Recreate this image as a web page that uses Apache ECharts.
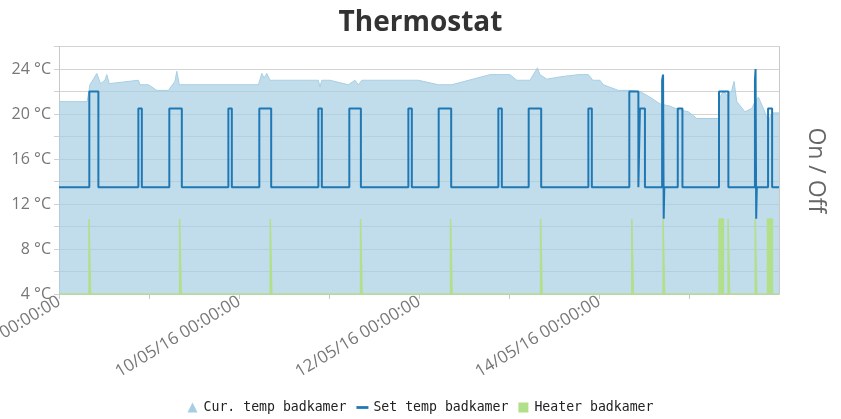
<!DOCTYPE html>
<html>
<head>
<meta charset="utf-8">
<title>Thermostat</title>
<script src="https://cdn.jsdelivr.net/npm/echarts@6/dist/echarts.min.js"></script>
<style>
  html, body { margin: 0; padding: 0; background: #fff; }
  #chart { width: 841px; height: 419px; }
</style>
</head>
<body>
<div id="chart"></div>
<script>
// measured temperature (°C)
var curTemp = [
    ['2016-05-08T00:00', 21.1], ['2016-05-08T07:30', 21.1], ['2016-05-08T08:15', 22.6],
    ['2016-05-08T10:05', 23.6], ['2016-05-08T11:05', 22.7], ['2016-05-08T12:15', 23.0],
    ['2016-05-08T12:45', 23.5], ['2016-05-08T13:25', 22.7], ['2016-05-08T21:10', 23.0],
    ['2016-05-08T21:35', 22.6], ['2016-05-08T23:50', 22.6], ['2016-05-09T02:05', 22.1],
    ['2016-05-09T05:10', 22.1], ['2016-05-09T06:55', 22.9], ['2016-05-09T07:25', 23.8],
    ['2016-05-09T08:05', 22.6], ['2016-05-10T05:10', 22.6], ['2016-05-10T06:05', 23.6],
    ['2016-05-10T06:40', 23.2], ['2016-05-10T07:25', 23.6], ['2016-05-10T08:15', 23.0],
    ['2016-05-10T21:10', 23.0], ['2016-05-10T21:35', 22.4], ['2016-05-10T22:05', 23.0],
    ['2016-05-11T00:15', 23.0], ['2016-05-11T05:10', 22.6], ['2016-05-11T06:55', 23.0],
    ['2016-05-11T07:50', 22.6], ['2016-05-11T08:45', 23.0], ['2016-05-11T23:50', 23.0],
    ['2016-05-12T05:10', 22.6], ['2016-05-12T08:45', 22.6], ['2016-05-12T18:55', 23.5],
    ['2016-05-13T00:15', 23.5], ['2016-05-13T02:05', 23.0], ['2016-05-13T05:35', 23.0],
    ['2016-05-13T07:35', 24.1], ['2016-05-13T08:15', 23.5], ['2016-05-13T10:05', 23.1],
    ['2016-05-13T13:35', 23.3], ['2016-05-13T18:30', 23.5], ['2016-05-13T21:10', 23.5],
    ['2016-05-13T22:20', 23.0], ['2016-05-14T00:15', 23.0], ['2016-05-14T01:10', 22.6],
    ['2016-05-14T05:10', 22.1], ['2016-05-14T08:15', 22.1], ['2016-05-14T10:55', 22.0],
    ['2016-05-14T13:35', 21.5], ['2016-05-14T16:15', 20.9], ['2016-05-14T18:55', 20.7],
    ['2016-05-14T21:10', 20.4], ['2016-05-14T23:50', 20.2], ['2016-05-15T02:05', 19.6],
    ['2016-05-15T07:50', 19.6], ['2016-05-15T08:15', 21.5], ['2016-05-15T09:10', 22.0],
    ['2016-05-15T10:05', 21.7], ['2016-05-15T11:25', 22.1], ['2016-05-15T12:00', 22.9],
    ['2016-05-15T12:45', 21.1], ['2016-05-15T14:55', 20.2], ['2016-05-15T16:45', 20.5],
    ['2016-05-15T17:35', 21.1], ['2016-05-15T18:30', 21.5], ['2016-05-15T19:50', 20.5],
    ['2016-05-15T21:10', 19.3], ['2016-05-15T22:05', 20.1], ['2016-05-16T00:00', 20.1]
];

// set point (°C), value holds until the next entry
var setTemp = [
    ['2016-05-08T00:00', 13.5], ['2016-05-08T08:05', 22.0], ['2016-05-08T10:30', 13.5],
    ['2016-05-08T21:10', 20.5], ['2016-05-08T22:05', 13.5], ['2016-05-09T05:25', 20.5],
    ['2016-05-09T08:45', 13.5], ['2016-05-09T21:10', 20.5], ['2016-05-09T22:05', 13.5],
    ['2016-05-10T05:25', 20.5], ['2016-05-10T08:35', 13.5], ['2016-05-10T21:10', 20.5],
    ['2016-05-10T22:05', 13.5], ['2016-05-11T05:25', 20.5], ['2016-05-11T08:30', 13.5],
    ['2016-05-11T21:10', 20.5], ['2016-05-11T22:05', 13.5], ['2016-05-12T05:15', 20.5],
    ['2016-05-12T08:35', 13.5], ['2016-05-12T21:10', 20.5], ['2016-05-12T22:05', 13.5],
    ['2016-05-13T05:15', 20.5], ['2016-05-13T08:35', 13.5], ['2016-05-13T21:10', 20.5],
    ['2016-05-13T22:05', 13.5], ['2016-05-14T08:05', 22.0], ['2016-05-14T10:30', 13.5],
    ['2016-05-14T10:55', 20.5], ['2016-05-14T12:15', 13.5], ['2016-05-14T16:50', 23.0],
    ['2016-05-14T17:05', 23.5], ['2016-05-14T17:15', 10.7], ['2016-05-14T17:25', 13.5],
    ['2016-05-14T21:00', 20.5], ['2016-05-14T22:15', 13.5], ['2016-05-15T08:00', 22.0],
    ['2016-05-15T10:30', 13.5], ['2016-05-15T17:35', 23.0], ['2016-05-15T17:45', 24.0],
    ['2016-05-15T17:55', 10.7], ['2016-05-15T18:05', 13.5], ['2016-05-15T21:05', 20.5],
    ['2016-05-15T22:10', 13.5], ['2016-05-16T00:00', 13.5]
];

// heater on (1) / off (0)
var heater = [
    ['2016-05-08T00:00', 0],
    ['2016-05-08T08:00', 1], ['2016-05-08T08:25', 0],
    ['2016-05-09T08:10', 1], ['2016-05-09T08:35', 0],
    ['2016-05-10T08:20', 1], ['2016-05-10T08:45', 0],
    ['2016-05-11T08:25', 1], ['2016-05-11T08:50', 0],
    ['2016-05-12T08:25', 1], ['2016-05-12T08:50', 0],
    ['2016-05-13T08:25', 1], ['2016-05-13T08:50', 0],
    ['2016-05-14T08:45', 1], ['2016-05-14T09:10', 0],
    ['2016-05-14T17:05', 1], ['2016-05-14T17:30', 0],
    ['2016-05-15T08:00', 1], ['2016-05-15T09:10', 0],
    ['2016-05-15T10:25', 1], ['2016-05-15T10:50', 0],
    ['2016-05-15T17:40', 1], ['2016-05-15T18:05', 0],
    ['2016-05-15T20:55', 1], ['2016-05-15T22:15', 0],
    ['2016-05-16T00:00', 0]
];

var seriesNames = ['Cur. temp badkamer', 'Set temp badkamer', 'Heater badkamer'];
var startDay = '2016-05-08T00:00';
var endDay = '2016-05-16T00:00';

var DAY = 86400000;

function toMs (s) {
    return Date.parse(s + ':00Z');
}

function toPoints (list) {
    return list.map(function (p) { return [toMs(p[0]), p[1]]; });
}

function pad (n) {
    return (n < 10 ? '0' : '') + n;
}

var xMin = toMs(startDay);
var xMax = toMs(endDay);

var chart = echarts.init(document.getElementById('chart'));

var option = {
    animation: false,
    title: {
        text: 'Thermostat',
        left: 'center',
        top: 4,
        textStyle: {
            fontFamily: 'Open Sans',
            fontSize: 28,
            fontWeight: 'bold',
            color: '#333'
        }
    },
    legend: {
        bottom: 0,
        left: 'center',
        itemWidth: 12,
        itemHeight: 10,
        itemGap: 10,
        textStyle: {
            fontFamily: 'DejaVu Sans Mono',
            fontSize: 13.2,
            color: '#222'
        },
        data: [
            { name: seriesNames[0], icon: 'path://M5,0L10,10L0,10Z' },
            { name: seriesNames[1], icon: 'path://M0,0H13V3H0Z' },
            { name: seriesNames[2], icon: 'path://M0,0H10V10H0Z' }
        ]
    },
    grid: {
        left: 59,
        right: 62,
        top: 46.5,
        bottom: 125,
        containLabel: false,
        outerBoundsMode: 'none'
    },
    xAxis: {
        type: 'value',
        min: xMin,
        max: xMax,
        interval: DAY,
        splitLine: { show: false },
        axisLine: { show: true, lineStyle: { color: '#c8c8c8' } },
        axisTick: { show: true, length: 5, lineStyle: { color: '#c8c8c8' } },
        axisLabel: {
            rotate: 31,
            margin: 6,
            fontFamily: 'Open Sans',
            fontSize: 17,
            color: '#777',
            showMaxLabel: false,
            formatter: function (v) {
                var d = Math.round((v - xMin) / DAY);
                if (d % 2 !== 0 || v >= xMax) return '';
                var dt = new Date(v);
                return pad(dt.getUTCDate()) + '/' + pad(dt.getUTCMonth() + 1) + '/' +
                    String(dt.getUTCFullYear()).slice(2) + ' 00:00:00';
            }
        }
    },
    yAxis: [
        {
            type: 'value',
            min: 4,
            max: 26,
            interval: 2,
            axisLine: { show: true, lineStyle: { color: '#c8c8c8' } },
            axisTick: { show: true, length: 5, lineStyle: { color: '#d0d0d0' } },
            splitLine: { lineStyle: { color: '#d4d4d4' } },
            axisLabel: {
                margin: 8,
                fontFamily: 'Open Sans',
                fontSize: 16,
                color: '#777',
                formatter: function (v) {
                    return v % 4 === 0 ? v + ' °C' : '';
                }
            }
        },
        {
            type: 'value',
            min: 0,
            max: 3.3,
            position: 'right',
            name: 'On / Off',
            nameLocation: 'middle',
            nameRotate: -90,
            nameGap: 25,
            nameTextStyle: {
                fontFamily: 'Open Sans',
                fontSize: 23,
                color: '#666'
            },
            axisLine: { show: true, lineStyle: { color: '#c8c8c8' } },
            axisTick: { show: false },
            axisLabel: { show: false },
            splitLine: { show: false }
        }
    ],
    series: [
        {
            name: seriesNames[0],
            type: 'line',
            data: toPoints(curTemp),
            showSymbol: false,
            color: '#a6cee3',
            lineStyle: { width: 1, color: '#a6cee3' },
            areaStyle: { color: '#a6cee3', opacity: 0.7 },
            z: 1
        },
        {
            name: seriesNames[1],
            type: 'line',
            step: 'end',
            data: toPoints(setTemp),
            showSymbol: false,
            color: '#1f78b4',
            lineStyle: { width: 2, color: '#1f78b4' },
            z: 4
        },
        {
            name: seriesNames[2],
            type: 'line',
            step: 'end',
            yAxisIndex: 1,
            data: toPoints(heater),
            showSymbol: false,
            color: '#b2df8a',
            lineStyle: { width: 1.5, color: '#b2df8a' },
            areaStyle: { color: '#b2df8a', opacity: 1 },
            z: 3
        }
    ]
};

chart.setOption(option);
</script>
</body>
</html>
